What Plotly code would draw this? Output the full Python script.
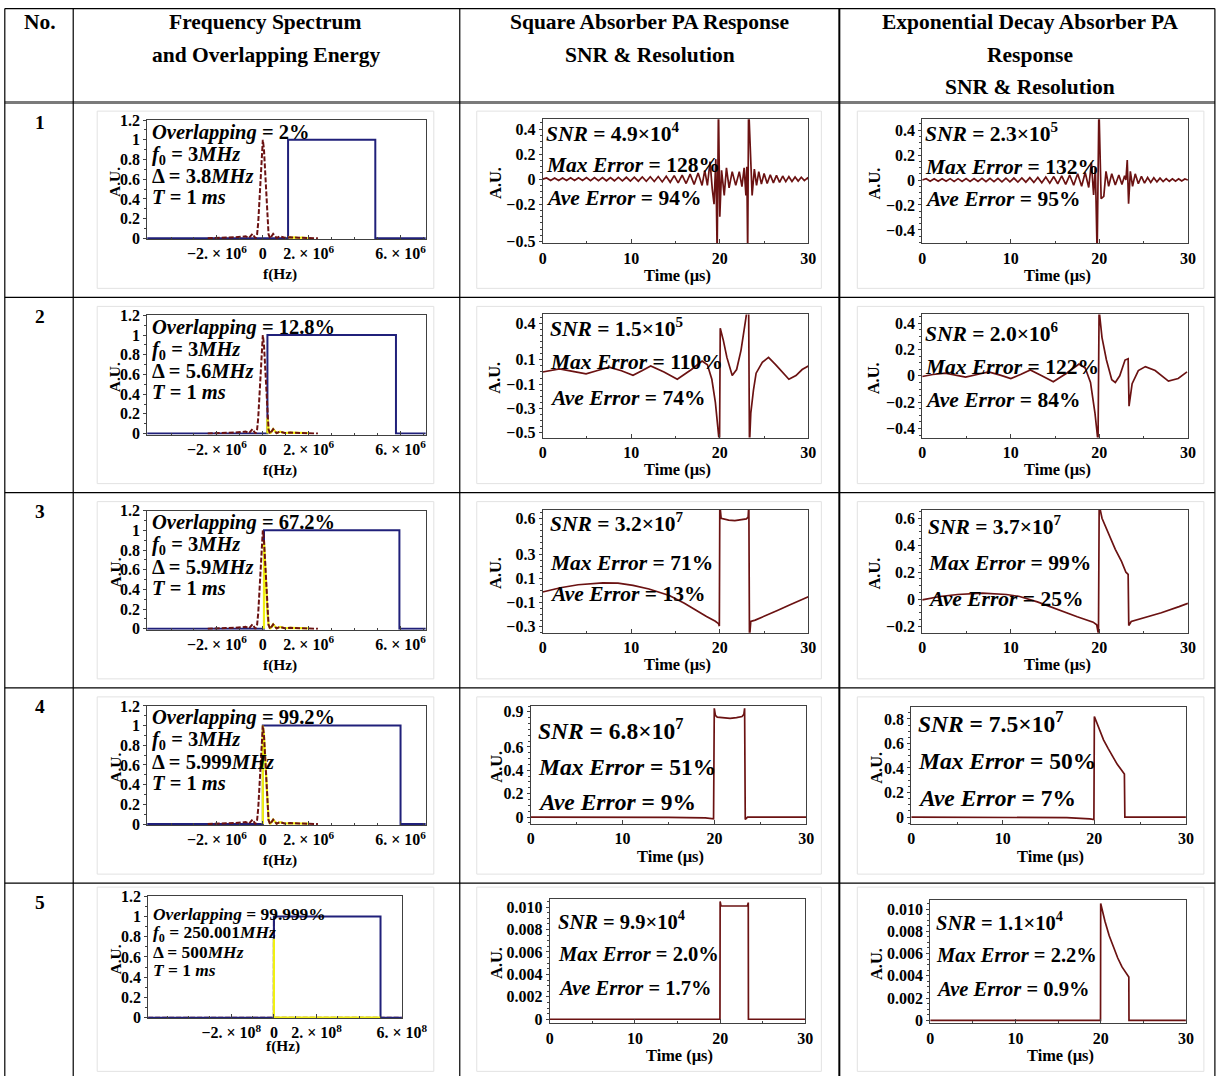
import math
import plotly.graph_objects as go

# Measured mapping from figure pixels to the photographed picture:
#   picture = offset + scale * figure   (margin of the page body removed)
SX, SY = 0.977, 0.984
AX0, AY0 = 3.7, 8.0
FW = int(math.ceil((1218 - AX0) / SX))
FH = int(math.ceil((1076 - AY0) / SY))
FS = 1.0 / SX          # font compensation
FONT = "Liberation Serif"
RED = "#6b1212"
BLUE = "#20207a"
YEL = "#f0f010"
AX = "#404040"

# ---------------------------------------------------------------- data
# Spectrum of the PA signal (frequency in MHz, normalised amplitude)
SPEC_F_MHZ = [-2.4, -2.0, -1.6, -1.2, -0.95, -0.75, -0.6, -0.45, -0.32, -0.25, -0.2, -0.15, -0.1, -0.05, 0.0,
              0.05, 0.1, 0.15, 0.2, 0.25, 0.32, 0.45, 0.6, 0.75, 0.95, 1.2, 1.6, 2.0, 2.4]
SPEC_A = [0.0, 0.006, 0.008, 0.01, 0.015, 0.02, 0.004, 0.045, 0.0, 0.04, 0.16, 0.38, 0.65, 0.9, 1.0,
          0.9, 0.65, 0.38, 0.16, 0.04, 0.0, 0.045, 0.004, 0.02, 0.006, 0.01, 0.006, 0.006, 0.0]
SPEC5_F_MHZ = [-590.0, -0.3, 0.0, 0.3, 600.0]
SPEC5_A = [0.0, 0.0, 1.0, 0.0, 0.0]

F0_MHZ = [3.0, 3.0, 3.0, 3.0, 250.001]
DELTA_MHZ = [3.8, 5.6, 5.9, 5.999, 500.0]
XRANGE_MHZ = [[-5.04, 7.1], [-5.04, 7.1], [-5.04, 7.1], [-5.04, 7.1], [-590.0, 600.0]]

# overlapping part of the spectrum (yellow)
OV1_F = [1.1, 1.25, 1.4, 1.55, 1.7, 1.85, 2.0]
OV1_A = [0.012, 0.004, 0.01, 0.003, 0.008, 0.003, 0.0]
OV2_F = [0.2, 0.2, 0.25, 0.32, 0.45, 0.6, 0.75, 0.95, 1.2, 1.6, 2.0]
OV2_A = [0.0, 0.16, 0.04, 0.0, 0.045, 0.004, 0.02, 0.006, 0.01, 0.006, 0.004]
OV3_F = [0.05, 0.05, 0.1, 0.15, 0.2, 0.25, 0.32, 0.45, 0.6, 0.75, 0.95, 1.2, 1.6, 2.0]
OV3_A = [0.0, 0.9, 0.65, 0.38, 0.16, 0.04, 0.0, 0.045, 0.004, 0.02, 0.006, 0.01, 0.006, 0.004]
OV4_F = [0.0005, 0.0005, 0.05, 0.1, 0.15, 0.2, 0.25, 0.32, 0.45, 0.6, 0.75, 0.95, 1.2, 1.6, 2.0]
OV4_A = [0.0, 1.0, 0.9, 0.65, 0.38, 0.16, 0.04, 0.0, 0.045, 0.004, 0.02, 0.006, 0.01, 0.006, 0.004]
OV5_F = [0.001, 0.002, 500.001]
OV5_A = [0.78, 0.0, 0.0]

OVERLAP_TXT = ["2%", "12.8%", "67.2%", "99.2%", "99.999%"]
F0_TXT = ["3", "3", "3", "3", "250.001"]
DELTA_TXT = ["3.8", "5.6", "5.9", "5.999", "500"]

# square absorber PA response (time in microseconds, A.U.)
RIP_T = [0.0, 0.45, 0.9, 1.35, 1.8, 2.25, 2.7, 3.15, 3.6, 4.05, 4.5, 4.95, 5.4, 5.85, 6.3, 6.75, 7.2, 7.65,
         8.1, 8.55, 9.0, 9.45, 9.9, 10.35, 10.8, 11.25, 11.7, 12.15, 12.6, 13.05, 13.5, 13.95, 14.4, 14.85,
         15.3, 15.75, 16.2, 16.65, 17.1, 17.55]
RIP_Y = [0.0, 0.01, -0.01, 0.01, -0.01, 0.01, -0.01, 0.011, -0.011, 0.011, -0.011, 0.012, -0.012, 0.012,
         -0.012, 0.013, -0.013, 0.013, -0.013, 0.014, -0.014, 0.015, -0.015, 0.016, -0.016, 0.017, -0.017,
         0.019, -0.019, 0.021, -0.022, 0.024, -0.025, 0.028, -0.03, 0.033, -0.035, 0.04, -0.042, 0.05]
SQ1_TAIL_T = [18.0, 18.3, 18.6, 18.9, 19.15, 19.35, 19.55, 19.7, 19.85, 20.0, 20.2, 20.5, 20.75, 21.05, 21.4,
              21.8, 22.2, 22.5, 22.75, 22.95, 23.05, 23.15, 23.25, 23.45, 23.65, 23.9, 24.15, 24.4, 24.7,
              25.0, 25.35, 25.7, 26.05, 26.4, 26.75, 27.1, 27.45, 27.8, 28.15, 28.5, 28.85, 29.2, 29.55,
              29.9, 30.0]
SQ1_TAIL_Y = [-0.05, 0.07, -0.05, 0.14, -0.08, -0.2, 0.16, -0.6, 0.6, -0.3, 0.07, -0.13, 0.09, -0.07, 0.06,
              -0.05, 0.06, -0.06, 0.09, -0.13, 0.1, -0.6, 0.6, 0.15, -0.13, 0.08, -0.05, 0.06, -0.04,
              0.045, -0.035, 0.035, -0.03, 0.03, -0.025, 0.025, -0.02, 0.02, -0.018, 0.018, -0.015, 0.015,
              -0.012, 0.01, 0.0]
SQ2_T = [0.0, 1.0, 1.9, 3.4, 4.9, 6.2, 7.5, 8.9, 10.2, 11.2, 12.2, 13.7, 15.2, 16.8, 18.0, 18.6, 19.1, 19.5,
         19.8, 19.97, 20.05, 20.4, 20.8, 21.4, 21.9, 22.4, 22.9, 23.25, 23.35, 23.5, 23.8, 24.1, 24.8, 25.5,
         26.3, 27.0, 27.8, 28.6, 29.3, 30.0]
SQ2_Y = [0.0, 0.015, 0.025, 0.005, -0.015, 0.012, 0.04, 0.01, -0.027, 0.01, 0.05, 0.0, -0.06, 0.02, 0.09,
         0.06, -0.06, -0.25, -0.45, -0.6, 0.36, 0.26, 0.12, -0.03, 0.02, 0.18, 0.42, 0.6, -0.6, -0.34, -0.15,
         -0.01, 0.08, 0.12, 0.06, 0.0, -0.06, -0.03, 0.02, 0.05]
SQ3_T = [0.0, 2.0, 4.0, 6.8, 8.5, 10.2, 12.0, 14.3, 16.0, 17.3, 18.5, 19.5, 19.85, 19.95, 20.0, 20.15, 20.4,
         21.0, 21.7, 22.4, 23.0, 23.2, 23.28, 23.35, 23.5, 24.0, 25.0, 26.5, 28.0, 29.0, 30.0]
SQ3_Y = [-0.015, 0.02, 0.045, 0.06, 0.058, 0.04, 0.01, -0.045, -0.11, -0.17, -0.22, -0.26, -0.28, -0.3,
         0.72, 0.6, 0.595, 0.585, 0.58, 0.585, 0.595, 0.61, 0.72, -0.4, -0.26, -0.25, -0.22, -0.17, -0.12,
         -0.09, -0.055]
SQ4_T = [0.0, 5.0, 10.0, 15.0, 19.0, 19.9, 19.98, 20.1, 20.3, 21.0, 21.7, 22.4, 23.0, 23.2, 23.28, 23.35,
         23.6, 30.0]
SQ4_Y = [0.0, 0.0, 0.0, -0.003, -0.008, -0.015, 0.93, 0.87, 0.855, 0.85, 0.845, 0.85, 0.86, 0.88, 0.93,
         -0.02, 0.0, 0.0]
SQ5_T = [0.0, 19.98, 20.0, 20.1, 21.5, 23.2, 23.3, 23.32, 30.0]
SQ5_Y = [0.0, 0.0, 0.0105, 0.0101, 0.0101, 0.0101, 0.0104, 0.0, 0.0]

# exponential decay absorber PA response
EXP1_TAIL_T = [18.0, 18.4, 18.8, 19.1, 19.35, 19.55, 19.75, 19.95, 20.2, 20.5, 20.75, 21.05, 21.4, 21.8,
               22.2, 22.55, 22.85, 23.0, 23.15, 23.3, 23.5, 23.75, 24.05, 24.4, 24.75, 25.1, 25.45, 25.8,
               26.15, 26.5, 26.85, 27.2, 27.55, 27.9, 28.25, 28.6, 28.95, 29.3, 29.65, 30.0]
EXP1_TAIL_Y = [-0.05, 0.06, -0.06, 0.14, -0.12, 0.1, -0.6, 0.6, -0.15, -0.13, 0.07, -0.05, 0.05, -0.04,
               0.04, -0.035, 0.035, 0.0, 0.16, -0.19, 0.07, -0.05, 0.05, -0.03, 0.03, -0.025, 0.02, -0.02,
               0.018, -0.015, 0.015, -0.012, 0.012, -0.01, 0.01, -0.01, 0.01, -0.008, 0.008, 0.0]
EXP2_T = [0.0, 1.2, 2.6, 3.8, 4.9, 6.2, 7.5, 8.8, 10.0, 11.1, 12.2, 13.5, 14.8, 16.3, 17.7, 18.4, 19.0, 19.5,
          19.85, 19.97, 20.3, 20.8, 21.4, 21.8, 22.3, 22.9, 23.25, 23.35, 23.7, 24.4, 25.2, 26.3, 27.8, 28.9,
          29.9]
EXP2_Y = [-0.005, 0.01, 0.02, 0.005, -0.01, 0.01, 0.03, 0.005, -0.02, 0.01, 0.045, 0.0, -0.045, 0.02, 0.09,
          0.06, -0.05, -0.28, -0.5, 0.5, 0.29, 0.12, -0.03, -0.05, 0.0, 0.12, 0.13, -0.23, -0.06, 0.04, 0.07,
          0.04, -0.04, -0.02, 0.03]
EXP3_T = [0.0, 2.0, 4.0, 6.8, 9.5, 11.0, 13.0, 15.0, 17.5, 19.3, 19.7, 19.9, 19.98, 20.3, 21.0, 21.8, 22.5,
          23.0, 23.25, 23.32, 23.6, 25.0, 27.0, 29.0, 30.0]
EXP3_Y = [-0.005, 0.02, 0.035, 0.045, 0.035, 0.02, -0.02, -0.07, -0.13, -0.17, -0.19, -0.26, 0.7, 0.6, 0.49,
          0.37, 0.28, 0.2, 0.185, -0.195, -0.165, -0.14, -0.1, -0.055, -0.03]
EXP4_T = [0.0, 10.0, 17.0, 19.5, 19.95, 20.0, 20.5, 21.0, 21.5, 22.0, 22.5, 23.0, 23.28, 23.33, 24.0, 30.0]
EXP4_Y = [0.0, 0.0, -0.005, -0.015, -0.02, 0.82, 0.72, 0.63, 0.56, 0.49, 0.43, 0.38, 0.35, 0.0, 0.0, 0.0]
EXP5_T = [0.0, 19.98, 20.0, 20.5, 21.0, 21.5, 22.0, 22.5, 23.0, 23.3, 23.32, 30.0]
EXP5_Y = [0.0, 0.0, 0.0105, 0.0089, 0.0076, 0.0065, 0.0056, 0.0048, 0.0042, 0.0039, 0.0, 0.0]

SNR_SQ = [("4.9", "4"), ("1.5", "5"), ("3.2", "7"), ("6.8", "7"), ("9.9", "4")]
MAXERR_SQ = ["128%", "110%", "71%", "51%", "2.0%"]
AVEERR_SQ = ["94%", "74%", "13%", "9%", "1.7%"]
SNR_EXP = [("2.3", "5"), ("2.0", "6"), ("3.7", "7"), ("7.5", "7"), ("1.1", "4")]
MAXERR_EXP = ["132%", "122%", "99%", "50%", "2.2%"]
AVEERR_EXP = ["95%", "84%", "25%", "7%", "0.9%"]

# y tick values of the time plots
YT_SQ = [[0.4, 0.2, 0, -0.2, -0.5], [0.4, 0.1, -0.1, -0.3, -0.5], [0.6, 0.3, 0.1, -0.1, -0.3],
         [0.9, 0.6, 0.4, 0.2, 0], [0.010, 0.008, 0.006, 0.004, 0.002, 0]]
YT_EXP = [[0.4, 0.2, 0, -0.2, -0.4], [0.4, 0.2, 0, -0.2, -0.4], [0.6, 0.4, 0.2, 0, -0.2],
          [0.8, 0.6, 0.4, 0.2, 0], [0.010, 0.008, 0.006, 0.004, 0.002, 0]]

SQ_SERIES = [(RIP_T + SQ1_TAIL_T, RIP_Y + SQ1_TAIL_Y), (SQ2_T, SQ2_Y), (SQ3_T, SQ3_Y), (SQ4_T, SQ4_Y),
             (SQ5_T, SQ5_Y)]
EXP_SERIES = [(RIP_T + EXP1_TAIL_T, RIP_Y + EXP1_TAIL_Y), (EXP2_T, EXP2_Y), (EXP3_T, EXP3_Y),
              (EXP4_T, EXP4_Y), (EXP5_T, EXP5_Y)]
OV_SERIES = [(OV1_F, OV1_A), (OV2_F, OV2_A), (OV3_F, OV3_A), (OV4_F, OV4_A), (OV5_F, OV5_A)]

# ---------------------------------------------------------------- layout geometry (reference pixels)
BOX1 = [(147, 426, 120, 239), (147, 426, 315, 434), (147, 426, 510, 629), (147, 426, 705, 824),
        (148, 402, 895, 1017)]
BOX2 = [(543, 809, 119, 243), (543, 809, 314, 437), (543, 809, 509, 632), (531, 807, 705, 823),
        (550, 806, 898, 1022)]
BOX3 = [(923, 1189, 119, 243), (923, 1189, 314, 437), (923, 1189, 509, 632), (912, 1187, 706, 823),
        (931, 1187, 899, 1022)]
YR2 = [[-0.513, 0.48], [-0.54, 0.474], [-0.356, 0.672], [-0.06, 0.951], [-0.00036, 0.01071]]
YR3 = [[-0.507, 0.488], [-0.468, 0.466], [-0.249, 0.664], [-0.057, 0.898], [-0.00027, 0.0108]]
YMINOR = [0.05, 0.05, 0.05, 0.05, 0.0005]

fig = go.Figure()
layout = {}
ann = []
shapes = []


def xd(x):
    return ((x - AX0) / SX) / FW


def yd(y):
    return 1 - ((y - AY0) / SY) / FH


def names(idx):
    s = "" if idx == 1 else str(idx)
    return "xaxis" + s, "yaxis" + s, "x" + s, "y" + s


TICKFONT = dict(family=FONT, size=round(16 * FS), color="black", weight="bold")


def set_axes(idx, box, xr, xtv, xtt, xminor, yr, ytv, ytt, yminor):
    L, R, T, B = box
    xa, ya, xn, yn = names(idx)
    layout[xa] = dict(domain=[xd(L), xd(R)], range=xr, anchor=yn, showline=True, mirror=True,
                      linecolor=AX, linewidth=1, ticks="inside", ticklen=4, tickcolor=AX,
                      tickmode="array", tickvals=xtv, ticktext=xtt, tickfont=TICKFONT,
                      showgrid=False, zeroline=False, fixedrange=True,
                      minor=dict(ticks="inside", ticklen=2, dtick=xminor, tickcolor=AX, showgrid=False))
    layout[ya] = dict(domain=[yd(B), yd(T)], range=yr, anchor=xn, showline=True, mirror=True,
                      linecolor=AX, linewidth=1, ticks="outside", ticklen=3, tickcolor=AX,
                      tickmode="array", tickvals=ytv, ticktext=ytt, tickfont=TICKFONT,
                      showgrid=False, zeroline=False, fixedrange=True,
                      minor=dict(ticks="outside", ticklen=2, dtick=yminor, tickcolor=AX, showgrid=False))
    return xn, yn


def text(x, y, s, size, anchor="left", angle=0):
    ann.append(dict(x=xd(x), y=yd(y), xref="paper", yref="paper", text=s, showarrow=False,
                    xanchor=anchor, yanchor="middle", textangle=angle,
                    font=dict(family=FONT, size=round(size * FS, 1), color="black")))


def fmt(v):
    s = ("%g" % v) if abs(v) >= 0.1 or v == 0 else ("%.3f" % v)
    return s.replace("-", "\u2212")


# ---------------------------------------------------------------- column 1 : spectra
col1_lines = [(12, 35, 56, 77)] * 4 + [(18, 37, 56, 74)]
for r in range(5):
    idx = r * 3 + 1
    box = BOX1[r]
    L, R, T, B = box
    if r < 4:
        xtv_m = [-2, 0, 2, 6]
        exp = "6"
        unit = 1e6
        xminor = 1e6
        yr = [-0.01, 1.2]
    else:
        xtv_m = [-200, 0, 200, 600]
        exp = "8"
        unit = 1e8
        xminor = 1e8
        yr = [-0.006, 1.2]
    xtv = [v * 1e6 for v in xtv_m]
    xtt = []
    for v in xtv:
        if v == 0:
            xtt.append("0")
        else:
            xtt.append("%s%d. \u00d7 10<sup>%s</sup>" % ("\u2212" if v < 0 else "", round(abs(v) / unit), exp))
    ytv = [0, 0.2, 0.4, 0.6, 0.8, 1.0, 1.2]
    ytt = ["0", "0.2", "0.4", "0.6", "0.8", "1", "1.2"]
    xr = [XRANGE_MHZ[r][0] * 1e6, XRANGE_MHZ[r][1] * 1e6]
    xn, yn = set_axes(idx, box, xr, xtv, xtt, xminor, yr, ytv, ytt, 0.1)
    lo = F0_MHZ[r] - DELTA_MHZ[r] / 2
    hi = F0_MHZ[r] + DELTA_MHZ[r] / 2
    bx = [XRANGE_MHZ[r][0], lo, lo, hi, hi, XRANGE_MHZ[r][1]]
    by = [0, 0, 1, 1, 0, 0]
    sf, sa = (SPEC_F_MHZ, SPEC_A) if r < 4 else (SPEC5_F_MHZ, SPEC5_A)
    red = go.Scatter(x=[v * 1e6 for v in sf], y=sa, xaxis=xn, yaxis=yn, mode="lines",
                     line=dict(color=RED, width=2, dash="5px,2px"), hoverinfo="skip")
    if r == 4:
        fig.add_trace(red)
    fig.add_trace(go.Scatter(x=[v * 1e6 for v in bx], y=by, xaxis=xn, yaxis=yn, mode="lines",
                             line=dict(color=BLUE, width=2), hoverinfo="skip"))
    of, oa = OV_SERIES[r]
    fig.add_trace(go.Scatter(x=[v * 1e6 for v in of], y=oa, xaxis=xn, yaxis=yn, mode="lines",
                             line=dict(color=YEL, width=2.2), hoverinfo="skip"))
    if r < 4:
        fig.add_trace(red)
    fs = 20 if r < 4 else 17
    o1, o2, o3, o4 = col1_lines[r]
    tx = L + 3
    text(tx, T + o1, "<b><i>Overlapping</i> = %s</b>" % OVERLAP_TXT[r], fs)
    text(tx, T + o2, "<b><i>f</i><sub>0</sub> = %s<i>MHz</i></b>" % F0_TXT[r], fs)
    text(tx, T + o3, "<b>\u0394 = %s<i>MHz</i></b>" % DELTA_TXT[r], fs)
    text(tx, T + o4, "<b><i>T</i> = 1 <i>ms</i></b>", fs)
    text(115, (T + B) / 2 + 2, "<b>A.U.</b>", 15, anchor="center", angle=-90)
    text((L + R) / 2 - 6 if r < 4 else 283, B + 35 if r < 4 else B + 28, "<b>f(Hz)</b>", 15, anchor="center")

# ---------------------------------------------------------------- columns 2 and 3 : PA responses
TXT_POS2 = [(544, 132, 165, 198), (548, 327, 362, 397), (548, 522, 562, 593), (536, 728, 766, 801),
            (556, 919, 953, 987)]
TXT_POS3 = [(924, 132, 167, 199), (924, 332, 367, 399), (927, 525, 562, 598), (917, 721, 760, 797),
            (935, 920, 954, 988)]
TXT_SIZE = [21, 21, 21, 23, 20]
AU_X = [(495, 875)] * 5
for c, (boxes, yrs, yts, series, snr, mx, av, tpos) in enumerate([
        (BOX2, YR2, YT_SQ, SQ_SERIES, SNR_SQ, MAXERR_SQ, AVEERR_SQ, TXT_POS2),
        (BOX3, YR3, YT_EXP, EXP_SERIES, SNR_EXP, MAXERR_EXP, AVEERR_EXP, TXT_POS3)]):
    for r in range(5):
        idx = r * 3 + 2 + c
        box = boxes[r]
        L, R, T, B = box
        ytv = yts[r]
        ytt = [fmt(v) for v in ytv]
        xn, yn = set_axes(idx, box, [0, 30], [0, 10, 20, 30], ["0", "10", "20", "30"], 5,
                          yrs[r], ytv, ytt, YMINOR[r])
        t, y = series[r]
        fig.add_trace(go.Scatter(x=t, y=y, xaxis=xn, yaxis=yn, mode="lines",
                                 line=dict(color=RED, width=1.7), hoverinfo="skip"))
        x0, y1, y2, y3 = tpos[r]
        fs = TXT_SIZE[r]
        text(x0, y1, "<b><i>SNR</i> = %s\u00d710<sup>%s</sup></b>" % snr[r], fs)
        text(x0, y2, "<b><i>Max Error</i> = %s</b>" % mx[r], fs)
        text(x0, y3, "<b><i>Ave Error</i> = %s</b>" % av[r], fs)
        text(AU_X[r][c] + (2 if r >= 3 else 0), (T + B) / 2 + 2, "<b>A.U.</b>", 16, anchor="center", angle=-90)
        text((L + R) / 2 + 2, B + 32, "<b>Time (\u00b5s)</b>", 16, anchor="center")


# ---------------------------------------------------------------- table
def hline(y, x0, x1, w=1, color="black"):
    shapes.append(dict(type="line", xref="paper", yref="paper", x0=xd(x0), x1=xd(x1), y0=yd(y), y1=yd(y),
                       line=dict(color=color, width=w)))


def vline(x, y0, y1, w=1, color="black"):
    shapes.append(dict(type="line", xref="paper", yref="paper", x0=xd(x), x1=xd(x), y0=yd(y0), y1=yd(y1),
                       line=dict(color=color, width=w)))


LEFT, RIGHT, TOP, BOTTOM = 4.5, 1216, 8.6, 1080
hline(TOP, LEFT, RIGHT, 1.2)
hline(102.5, LEFT, RIGHT, 3, "#7a7a7a")
for yy in [297, 492, 687, 882]:
    hline(yy, LEFT, RIGHT, 1.2)
vline(LEFT, TOP, BOTTOM, 1.2)
vline(RIGHT, TOP, BOTTOM, 1.2)
vline(73, TOP, BOTTOM, 1.2)
vline(460, TOP, BOTTOM, 1.2)
vline(840, TOP, BOTTOM, 2)

# faint frames of the embedded pictures
FR_Y = [(111, 288), (306, 483), (501, 678), (696, 873), (886, 1070)]
for (yt, yb) in FR_Y:
    for (xl, xr_) in [(97, 434), (477, 822), (858, 1205)]:
        shapes.append(dict(type="rect", xref="paper", yref="paper", x0=xd(xl), x1=xd(xr_), y0=yd(yb),
                           y1=yd(yt), line=dict(color="#e2e2e2", width=1), layer="below"))

HF = 21
text(40, 22, "<b>No.</b>", HF, anchor="center")
text(266, 22, "<b>Frequency Spectrum</b>", HF, anchor="center")
text(266, 55, "<b>and Overlapping Energy</b>", HF, anchor="center")
text(650, 22, "<b>Square Absorber PA Response</b>", HF, anchor="center")
text(650, 55, "<b>SNR &amp; Resolution</b>", HF, anchor="center")
text(1031, 22, "<b>Exponential Decay Absorber PA</b>", HF, anchor="center")
text(1031, 55, "<b>Response</b>", HF, anchor="center")
text(1031, 87, "<b>SNR &amp; Resolution</b>", HF, anchor="center")
for i, yy in enumerate([122, 316, 511, 706, 901]):
    text(40, yy, "<b>%d</b>" % (i + 1), 19, anchor="center")

fig.update_layout(width=FW, height=FH, margin=dict(l=0, r=0, t=0, b=0), paper_bgcolor="white",
                  plot_bgcolor="white", showlegend=False, font=dict(family=FONT, color="black"),
                  annotations=ann, shapes=shapes, **layout)

fig.write_html("out.html", config={"displayModeBar": False},
               post_script="document.body.style.margin='0';document.body.style.overflow='hidden';")
